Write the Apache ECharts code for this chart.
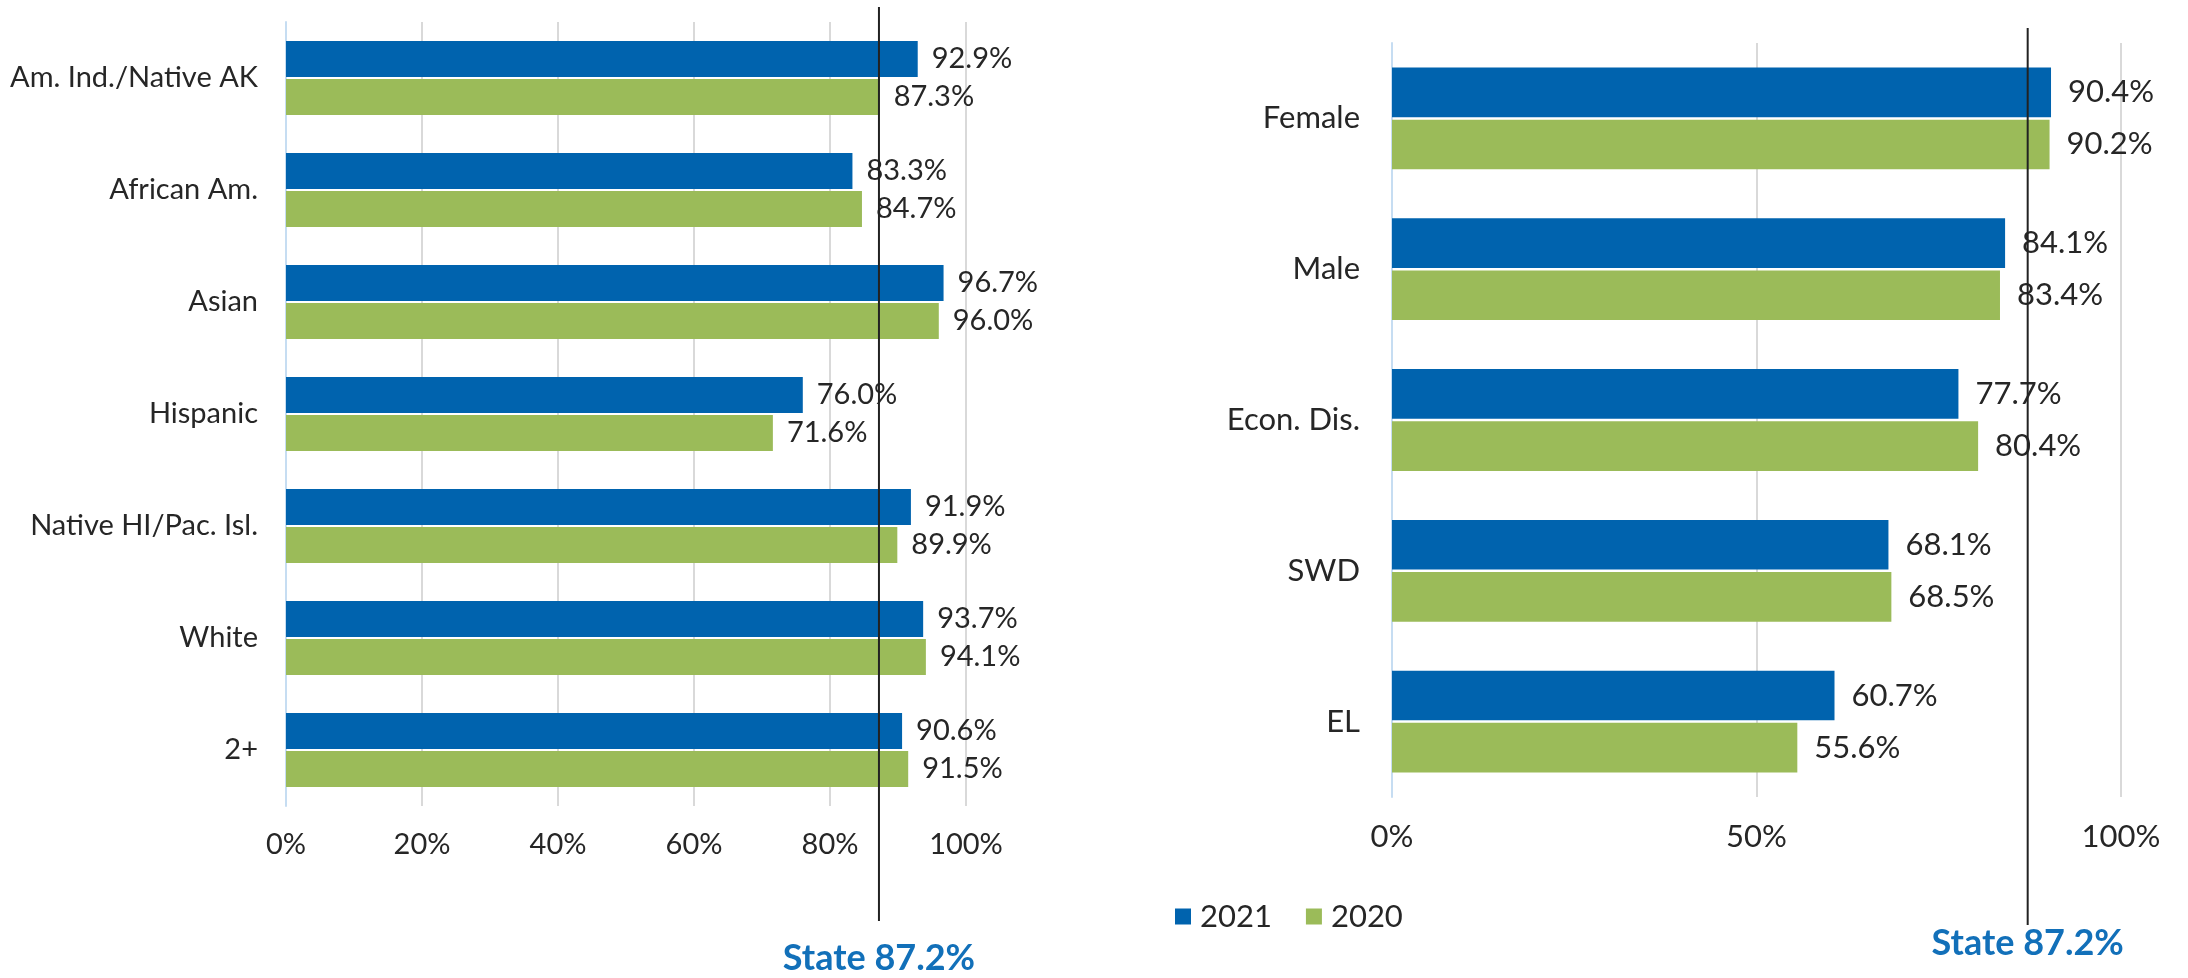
<!DOCTYPE html>
<html>
<head>
<meta charset="utf-8">
<script src="https://cdn.jsdelivr.net/npm/echarts@6/dist/echarts.min.js"></script>
<style>
  html, body { margin: 0; padding: 0; background: #fff; }
  #chart { width: 2188px; height: 978px; }
</style>
</head>
<body>
<div id="chart"></div>
<script>
// left panel: race / ethnicity
const raceCats = ['Am. Ind./Native AK', 'African Am.', 'Asian', 'Hispanic', 'Native HI/Pac. Isl.', 'White', '2+'];
const race2021 = [92.9, 83.3, 96.7, 76.0, 91.9, 93.7, 90.6];
const race2020 = [87.3, 84.7, 96.0, 71.6, 89.9, 94.1, 91.5];
const raceTicks = [0, 20, 40, 60, 80, 100];

// right panel: other groups
const groupCats = ['Female', 'Male', 'Econ. Dis.', 'SWD', 'EL'];
const group2021 = [90.4, 84.1, 77.7, 68.1, 60.7];
const group2020 = [90.2, 83.4, 80.4, 68.5, 55.6];
const groupTicks = [0, 50, 100];

const stateRate = 87.2;
const years = ['2021', '2020'];

const BLUE = '#0063AE';
const GREEN = '#9BBB59';
const TEXT = '#262626';
const STATE_BLUE = '#1270B9';
const FONT = 'Lato, "Open Sans", sans-serif';

const chart = echarts.init(document.getElementById('chart'));

function valueAxis(gridIndex, ticks, fs) {
  return {
    type: 'value',
    gridIndex: gridIndex,
    min: ticks[0],
    max: ticks[ticks.length - 1],
    interval: ticks[1] - ticks[0],
    axisLine: { show: false },
    axisTick: { show: false },
    axisLabel: {
      color: TEXT, fontSize: fs, fontFamily: FONT, margin: 24,
      formatter: v => v + '%'
    },
    splitLine: { show: true, lineStyle: { color: '#D9D9D9', width: 2 } }
  };
}

function catAxis(gridIndex, cats, fs, margin) {
  return {
    type: 'category',
    gridIndex: gridIndex,
    data: cats,
    inverse: true,
    axisLine: { show: true, lineStyle: { color: '#C6DDF2', width: 2 } },
    axisTick: { show: false },
    axisLabel: { color: TEXT, fontSize: fs, fontFamily: FONT, margin: margin }
  };
}

function barSeries(name, data, idx, color, fs, dist, catGap) {
  return {
    type: 'bar',
    name: name,
    xAxisIndex: idx,
    yAxisIndex: idx,
    data: data,
    barGap: '5%',
    barCategoryGap: catGap,
    itemStyle: { color: color },
    label: {
      show: true,
      position: 'right',
      distance: dist,
      color: TEXT,
      fontSize: fs,
      fontFamily: FONT,
      formatter: p => p.value.toFixed(1) + '%'
    },
    z: 3
  };
}

function stateSeries(idx, labelDist) {
  return {
    type: 'line',
    name: 'State',
    xAxisIndex: idx,
    yAxisIndex: idx,
    data: [[stateRate, 0], [stateRate, 1]],
    symbol: 'none',
    lineStyle: { color: '#222', width: 2 },
    z: 5,
    label: { show: false },
    markPoint: {
      symbol: 'rect',
      symbolSize: 1,
      itemStyle: { color: 'transparent' },
      label: {
        show: true,
        position: 'bottom',
        distance: labelDist,
        color: STATE_BLUE,
        fontSize: 36,
        fontWeight: 'bold',
        fontFamily: FONT,
        formatter: 'State ' + stateRate.toFixed(1) + '%'
      },
      data: [{ coord: [stateRate, 0] }]
    }
  };
}

const hiddenX = gi => ({ type: 'value', gridIndex: gi, min: 0, max: 100, show: false });
const hiddenY = gi => ({ type: 'value', gridIndex: gi, min: 0, max: 1, show: false });

chart.setOption({
  animation: false,
  textStyle: { fontFamily: FONT },
  grid: [
    { left: 286, width: 680, top: 22, height: 784 },
    { left: 1392, width: 729, top: 43, height: 754 },
    { left: 286, width: 680, top: 7, height: 914 },
    { left: 1392, width: 729, top: 28, height: 897 }
  ],
  legend: {
    data: years,
    left: 1170,
    top: 896,
    icon: 'rect',
    itemWidth: 16,
    itemHeight: 16,
    itemGap: 34,
    textStyle: { color: TEXT, fontSize: 31, fontFamily: FONT, padding: [0, 0, 0, 4] }
  },
  xAxis: [
    valueAxis(0, raceTicks, 29),
    valueAxis(1, groupTicks, 31),
    hiddenX(2),
    hiddenX(3)
  ],
  yAxis: [
    catAxis(0, raceCats, 29, 28),
    catAxis(1, groupCats, 31, 32),
    hiddenY(2),
    hiddenY(3)
  ],
  series: [
    barSeries(years[0], race2021, 0, BLUE, 29, 14, '34%'),
    barSeries(years[1], race2020, 0, GREEN, 29, 14, '34%'),
    barSeries(years[0], group2021, 1, BLUE, 31, 17, '32.5%'),
    barSeries(years[1], group2020, 1, GREEN, 31, 17, '32.5%'),
    stateSeries(2, 19),
    stateSeries(3, 0)
  ]
});
</script>
</body>
</html>
